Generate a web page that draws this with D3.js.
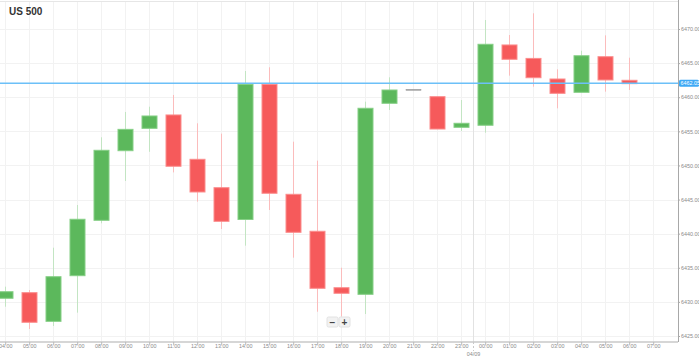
<!DOCTYPE html>
<html>
<head>
<meta charset="utf-8">
<script src="https://cdn.jsdelivr.net/npm/d3@7/dist/d3.min.js"></script>
<style>
  body { margin: 0; background: #fff; }
  svg { display: block; font-family: "Liberation Sans", Arial, sans-serif; }
</style>
</head>
<body>
<div id="chart"></div>
<script>
//Chart title and last price
var title = "US 500";
var lastPrice = 6462.05;

//First candle time, one candle per hour
var firstHour = "2025-04-08T04:00";
var lastTickHour = "2025-04-09T07:00";

//OHLC series
var opens  = [6430.53, 6431.35, 6427.15, 6433.84, 6441.96, 6452.16, 6455.44, 6457.40, 6450.90, 6446.74, 6442.08, 6461.87, 6445.77, 6440.35, 6432.08, 6431.11, 6459.11, 6461.16, 6460.08, 6455.59, 6455.89, 6467.66, 6465.69, 6462.67, 6460.72, 6465.94, 6462.48];
var highs  = [6432.23, 6431.74, 6437.94, 6444.20, 6454.13, 6457.84, 6458.61, 6460.33, 6456.18, 6454.66, 6463.84, 6464.39, 6453.48, 6450.70, 6435.01, 6459.35, 6462.92, 6461.16, 6460.08, 6459.59, 6471.32, 6469.12, 6472.30, 6464.09, 6466.81, 6469.07, 6465.79];
var lows   = [6429.29, 6426.03, 6426.47, 6428.42, 6441.52, 6447.72, 6452.00, 6448.98, 6444.69, 6440.68, 6438.24, 6443.47, 6436.48, 6428.56, 6427.83, 6428.22, 6458.13, 6461.16, 6455.34, 6455.05, 6454.80, 6463.16, 6461.55, 6458.37, 6460.72, 6460.82, 6461.06];
var closes = [6431.49, 6427.01, 6433.69, 6442.11, 6452.22, 6455.29, 6457.25, 6449.88, 6446.11, 6441.81, 6461.87, 6445.92, 6440.20, 6431.99, 6431.26, 6458.38, 6461.06, 6461.16, 6455.34, 6456.18, 6467.76, 6465.56, 6462.86, 6460.57, 6466.08, 6462.53, 6461.99];

//Y tick values
var yTicks = [6425, 6430, 6435, 6440, 6445, 6450, 6455, 6460, 6465, 6470];

//Size
var w = 699;
var h = 360;
var plotRight = 678;
var plotBottom = 342;
var bodyWidth = 15;
var tickFont = "5.4px";

var parseTime = d3.timeParse("%Y-%m-%dT%H:%M");
var formatHour = d3.timeFormat("%H:%M");

var start = parseTime(firstHour);
var tickEnd = parseTime(lastTickHour);

//Build candles
var candles = opens.map(function(o, i) {
  return {
    date: d3.timeHour.offset(start, i),
    open: o, high: highs[i], low: lows[i], close: closes[i]
  };
});

//Scales: 04:00 sits 5px in, 24px per hour
var xScale = d3.scaleTime()
  .domain([d3.timeMinute.offset(start, -12.5), d3.timeMinute.offset(tickEnd, 62.5)])
  .range([0, plotRight]);

var yScale = d3.scaleLinear()
  .domain([6425, 6470])
  .range([336, 29]);

var svg = d3.select("#chart")
  .append("svg")
  .attr("width", w)
  .attr("height", h);

svg.append("defs").append("clipPath")
  .attr("id", "plot")
  .append("rect")
  .attr("x", 0).attr("y", 0)
  .attr("width", plotRight).attr("height", plotBottom);

var hourTicks = d3.timeHour.range(start, d3.timeMinute.offset(tickEnd, 1));

//Grid
svg.append("g")
  .selectAll("line")
  .data(hourTicks)
  .enter()
  .append("line")
  .attr("x1", function(d) { return Math.round(xScale(d)) + 0.5; })
  .attr("x2", function(d) { return Math.round(xScale(d)) + 0.5; })
  .attr("y1", 2).attr("y2", plotBottom)
  .attr("stroke", "#f2f2f2");

svg.append("g")
  .selectAll("line")
  .data(yTicks)
  .enter()
  .append("line")
  .attr("x1", 0).attr("x2", plotRight)
  .attr("y1", function(d) { return Math.round(yScale(d)) + 0.5; })
  .attr("y2", function(d) { return Math.round(yScale(d)) + 0.5; })
  .attr("stroke", "#f2f2f2");

//Top border
svg.append("line")
  .attr("x1", 0).attr("x2", plotRight)
  .attr("y1", 1.5).attr("y2", 1.5)
  .attr("stroke", "#e6e6e6");

//Day separator
var dayX = Math.round(xScale(d3.timeMinute.offset(parseTime("2025-04-09T00:00"), -30))) + 0.5;
svg.append("line")
  .attr("x1", dayX).attr("x2", dayX)
  .attr("y1", 2).attr("y2", plotBottom)
  .attr("stroke", "#e2e2e2");
svg.append("line")
  .attr("x1", dayX).attr("x2", dayX)
  .attr("y1", plotBottom).attr("y2", 351)
  .attr("stroke", "#c8c8c8")
  .attr("stroke-dasharray", "2,2");

//Candles
var candleG = svg.append("g").attr("clip-path", "url(#plot)");

var groups = candleG.selectAll("g")
  .data(candles)
  .enter()
  .append("g");

function candleColor(d) {
  if (d.close > d.open) return "#5cb85c";
  if (d.close < d.open) return "#f65a5b";
  return "#999";
}
function wickColor(d) {
  if (d.close > d.open) return "#c3e5c3";
  if (d.close < d.open) return "#fbbcbc";
  return "#999";
}

groups.append("line")
  .attr("x1", function(d) { return Math.round(xScale(d.date)) + 0.5; })
  .attr("x2", function(d) { return Math.round(xScale(d.date)) + 0.5; })
  .attr("y1", function(d) { return yScale(d.high); })
  .attr("y2", function(d) { return yScale(d.low); })
  .attr("stroke", wickColor);

groups.append("rect")
  .attr("x", function(d) { return Math.round(xScale(d.date)) - (bodyWidth - 1) / 2; })
  .attr("y", function(d) { return yScale(Math.max(d.open, d.close)); })
  .attr("width", bodyWidth)
  .attr("height", function(d) {
    return Math.max(1, yScale(Math.min(d.open, d.close)) - yScale(Math.max(d.open, d.close)));
  })
  .attr("fill", candleColor)
  .attr("stroke", function(d) {
    if (d.close > d.open) return "#86cf86";
    if (d.close < d.open) return "#fb8d8d";
    return "#999";
  })
  .attr("stroke-width", function(d) { return d.close === d.open ? 0.5 : 1; });

//Last price line
var priceY = yScale(lastPrice);
svg.append("line")
  .attr("x1", 0).attr("x2", plotRight)
  .attr("y1", priceY).attr("y2", priceY)
  .attr("stroke", "#6cc0f8")
  .attr("stroke-width", 1.5);

//Axes lines
svg.append("line")
  .attr("x1", 0).attr("x2", plotRight)
  .attr("y1", plotBottom).attr("y2", plotBottom)
  .attr("stroke", "#c8c8c8")
  .attr("stroke-width", 1.5);

svg.append("line")
  .attr("x1", plotRight + 0.5).attr("x2", plotRight + 0.5)
  .attr("y1", 0).attr("y2", plotBottom)
  .attr("stroke", "#a8a8a8");

//X axis
var xAxis = d3.axisBottom(xScale)
  .tickValues(hourTicks)
  .tickFormat(formatHour)
  .tickSize(3)
  .tickSizeOuter(0);

var xg = svg.append("g")
  .attr("transform", "translate(0," + plotBottom + ")")
  .call(xAxis);
xg.select(".domain").remove();
xg.selectAll(".tick line").attr("stroke", "#bbb");
xg.selectAll(".tick text")
  .attr("fill", "#8a8a8a")
  .attr("font-size", tickFont)
  .attr("font-family", "'Liberation Sans', Arial, sans-serif")
  .attr("dy", "0.6em")
  .attr("y", 3);

svg.append("text")
  .attr("x", dayX)
  .attr("y", 356)
  .attr("text-anchor", "middle")
  .attr("fill", "#8a8a8a")
  .attr("font-size", tickFont)
  .text("04/09");

//Y axis
var yAxis = d3.axisRight(yScale)
  .tickValues(yTicks)
  .tickFormat(d3.format(".2f"))
  .tickSize(2)
  .tickSizeOuter(0);

var yg = svg.append("g")
  .attr("transform", "translate(" + plotRight + ",0)")
  .call(yAxis);
yg.select(".domain").remove();
yg.selectAll(".tick line").attr("stroke", "#aaa");
yg.selectAll(".tick text")
  .attr("fill", "#8a8a8a")
  .attr("font-size", tickFont)
  .attr("font-family", "'Liberation Sans', Arial, sans-serif")
  .attr("x", 3);

//Last price label
svg.append("rect")
  .attr("x", plotRight + 1)
  .attr("y", priceY - 3.5)
  .attr("width", 20)
  .attr("height", 7)
  .attr("rx", 1.5)
  .attr("fill", "#3fa9f5");
svg.append("text")
  .attr("x", plotRight + 2.5)
  .attr("y", priceY + 2)
  .attr("fill", "#fff")
  .attr("font-size", tickFont)
  .text(d3.format(".2f")(lastPrice));

//Title
svg.append("text")
  .attr("x", 9)
  .attr("y", 15)
  .attr("fill", "#333")
  .attr("font-size", "10px")
  .attr("font-weight", "bold")
  .text(title);

//Zoom buttons
var buttons = svg.append("g").attr("transform", "translate(327,317)");
buttons.selectAll("rect")
  .data(["\u2212", "+"])
  .enter()
  .append("rect")
  .attr("x", function(d, i) { return i * 12; })
  .attr("y", 0)
  .attr("width", 11)
  .attr("height", 10)
  .attr("rx", 1.5)
  .attr("fill", "#f2f2f2")
  .attr("stroke", "#e2e2e2");
buttons.selectAll("text")
  .data(["\u2212", "+"])
  .enter()
  .append("text")
  .attr("x", function(d, i) { return i * 12 + 5.5; })
  .attr("y", 8.5)
  .attr("text-anchor", "middle")
  .attr("fill", "#444")
  .attr("font-size", "10px")
  .attr("font-weight", "bold")
  .text(function(d) { return d; });
</script>
</body>
</html>
